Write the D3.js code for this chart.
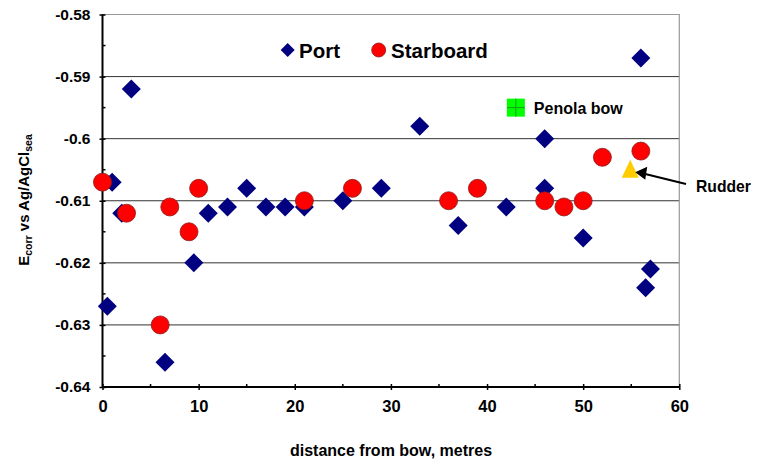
<!DOCTYPE html>
<html><head><meta charset="utf-8">
<script src="https://cdn.jsdelivr.net/npm/d3@7"></script>
<style>body{margin:0;background:#fff}svg{display:block;font-family:"Liberation Sans",Arial,sans-serif}</style>
</head><body><svg id="c" width="761" height="461"></svg>
<script>
const portX = [0.5, 1, 2, 3, 6.5, 9.5, 11, 13, 15, 17, 19, 21, 25, 29, 33, 37, 42, 46, 46, 50, 56, 56.5, 57];
const portY = [-0.627, -0.607, -0.612, -0.592, -0.636, -0.620, -0.612, -0.611, -0.608, -0.611, -0.611, -0.611, -0.610, -0.608, -0.598, -0.614, -0.611, -0.600, -0.608, -0.616, -0.587, -0.624, -0.621];
const starX = [0, 2.5, 6, 7, 9, 10, 21, 26, 36, 39, 46, 48, 50, 52, 56];
const starY = [-0.607, -0.612, -0.630, -0.611, -0.615, -0.608, -0.610, -0.608, -0.610, -0.608, -0.610, -0.611, -0.610, -0.603, -0.602];
const penolaBow = [43, -0.595];
const rudder = [55, -0.605];
const xTicks = [0, 10, 20, 30, 40, 50, 60];
const yTicks = [-0.58, -0.59, -0.60, -0.61, -0.62, -0.63, -0.64];
const yTickLabels = ["-0.58", "-0.59", "-0.6", "-0.61", "-0.62", "-0.63", "-0.64"];

const svg = d3.select("#c");
const x = d3.scaleLinear().domain([0, 60]).range([102.5, 679.3]);
const y = d3.scaleLinear().domain([-0.58, -0.64]).range([14.5, 387]);

// gridlines
svg.append("g").selectAll("line").data(yTicks.slice(1, -1)).join("line")
  .attr("x1", x(0)).attr("x2", x(60)).attr("y1", d => y(d)).attr("y2", d => y(d))
  .attr("stroke", "#333").attr("stroke-width", 1);
// top & right border
svg.append("path").attr("d", `M${x(0)},${y(-0.58)}H${x(60)}V${y(-0.64)}`)
  .attr("fill", "none").attr("stroke", "#999").attr("stroke-width", 1.2);

// y axis
const yAx = svg.append("g").attr("transform", `translate(${x(0)},0)`);
yAx.call(d3.axisLeft(y).tickValues(yTicks).tickFormat((d, i) => yTickLabels[i]).tickSize(4).tickPadding(8))
  .call(g => g.select(".domain").remove());
yAx.selectAll(".tick line").attr("x1", 3).attr("x2", -3).attr("stroke", "#000").attr("stroke-width", 1.5);
yAx.selectAll(".tick text").attr("font-size", 15.5).attr("font-weight", "bold").attr("font-family", "Liberation Sans, Arial, sans-serif").attr("fill", "#000");
const yMinor = d3.range(-0.585, -0.64, -0.01);
yAx.append("g").selectAll("line").data(yMinor).join("line")
  .attr("x1", 0).attr("x2", 3).attr("y1", d => y(d)).attr("y2", d => y(d)).attr("stroke", "#000").attr("stroke-width", 1.5);
yAx.append("line").attr("y1", y(-0.58)).attr("y2", y(-0.64)).attr("stroke", "#000").attr("stroke-width", 2);

// x axis
const xAx = svg.append("g").attr("transform", `translate(0,${y(-0.64)})`);
xAx.call(d3.axisBottom(x).tickValues(xTicks).tickFormat(d3.format("d")).tickSize(4).tickPadding(9))
  .call(g => g.select(".domain").remove());
xAx.selectAll(".tick line").attr("y1", -3).attr("y2", 3).attr("stroke", "#000").attr("stroke-width", 1.5);
xAx.selectAll(".tick text").attr("font-size", 16.5).attr("font-weight", "bold").attr("font-family", "Liberation Sans, Arial, sans-serif").attr("fill", "#000");
const xMinor = d3.range(5, 60, 10);
xAx.append("g").selectAll("line").data(xMinor).join("line")
  .attr("x1", d => x(d)).attr("x2", d => x(d)).attr("y1", 0).attr("y2", -3).attr("stroke", "#000").attr("stroke-width", 1.5);
xAx.append("line").attr("x1", x(0)).attr("x2", x(60)).attr("stroke", "#000").attr("stroke-width", 2);

// axis titles
svg.append("text").attr("x", 391).attr("y", 456).attr("text-anchor", "middle")
  .attr("font-size", 16).attr("font-weight", "bold").text("distance from bow, metres");
const yt = svg.append("text").attr("transform", "translate(29,200) rotate(-90)").attr("text-anchor", "middle")
  .attr("font-size", 15).attr("font-weight", "bold");
yt.append("tspan").text("E");
yt.append("tspan").attr("font-size", 10.5).attr("dy", 3).text("corr");
yt.append("tspan").attr("dy", -3).text(" vs Ag/AgCl");
yt.append("tspan").attr("font-size", 10.5).attr("dy", 3).text("sea");

const diamond = (cx, cy, r) => `M${cx},${cy - r}L${cx + r},${cy}L${cx},${cy + r}L${cx - r},${cy}Z`;
const portData = portX.map((d, i) => [d, portY[i]]);
const starData = starX.map((d, i) => [d, starY[i]]);

// port diamonds
svg.append("g").selectAll("path").data(portData).join("path")
  .attr("d", d => diamond(x(d[0]), y(d[1]), 9.5)).attr("fill", "#000080");
// starboard circles
svg.append("g").selectAll("circle").data(starData).join("circle")
  .attr("cx", d => x(d[0])).attr("cy", d => y(d[1])).attr("r", 9)
  .attr("fill", "#ff0000").attr("stroke", "#8b1a1a").attr("stroke-width", 0.8);

// Penola bow
const pbx = x(penolaBow[0]), pby = y(penolaBow[1]);
svg.append("rect").attr("x", pbx - 9).attr("y", pby - 9).attr("width", 18).attr("height", 18).attr("fill", "#00ff00");
svg.append("path").attr("d", `M${pbx},${pby - 9}V${pby + 9}M${pbx - 9},${pby}H${pbx + 9}`).attr("stroke", "#1a9a1a").attr("stroke-width", 1);
svg.append("text").attr("x", pbx + 18).attr("y", pby + 6).attr("font-size", 16).attr("font-weight", "bold").text("Penola bow");

// Rudder
const rx = x(rudder[0]) - 1, ry = y(rudder[1]);
svg.append("path").attr("d", `M${rx},${ry - 10}L${rx + 8.5},${ry + 8}L${rx - 8.5},${ry + 8}Z`).attr("fill", "#ffcc00");
svg.append("line").attr("x1", 686).attr("y1", 184).attr("x2", rx + 14).attr("y2", ry + 4).attr("stroke", "#000").attr("stroke-width", 2);
svg.append("path").attr("d", `M${rx + 5},${ry + 2.5}L${rx + 17},${ry - 3}L${rx + 15},${ry + 10}Z`).attr("fill", "#000");
svg.append("text").attr("x", 696).attr("y", 191.5).attr("font-size", 15.7).attr("font-weight", "bold").text("Rudder");

// legend
svg.append("path").attr("d", diamond(287.7, 50, 7)).attr("fill", "#000080");
svg.append("text").attr("x", 299).attr("y", 57.5).attr("font-size", 20.5).attr("font-weight", "bold").text("Port");
svg.append("circle").attr("cx", 378.7).attr("cy", 50).attr("r", 7).attr("fill", "#ff0000").attr("stroke", "#8b1a1a").attr("stroke-width", 0.8);
svg.append("text").attr("x", 391).attr("y", 57.5).attr("font-size", 20.5).attr("font-weight", "bold").text("Starboard");
</script></body></html>
